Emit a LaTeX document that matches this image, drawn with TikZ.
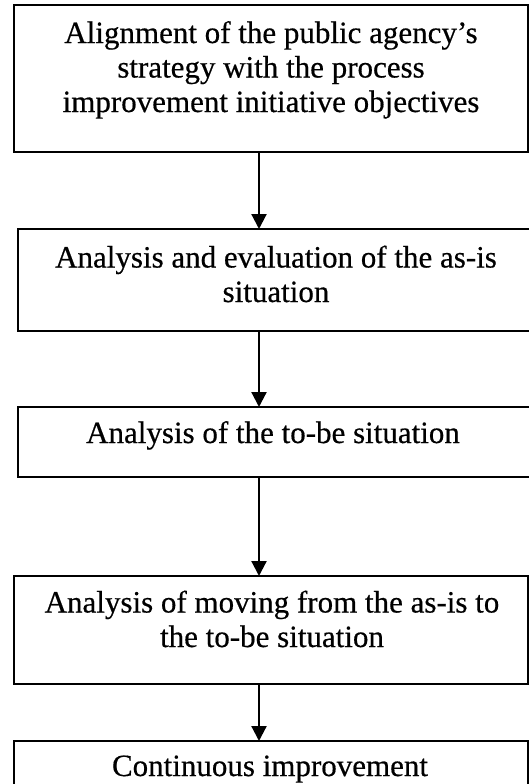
\documentclass[tikz,border=0pt]{standalone}
\usepackage{fontspec}
\setmainfont{Liberation Serif}[FakeBold=0.5]
\usetikzlibrary{arrows.meta}

\tikzset{
  stepbox/.style={draw=black, line width=2.2pt, rectangle, inner sep=0pt, outer sep=0pt,
                  anchor=north west, minimum width=514pt},
  lbl/.style={font=\fontsize{31}{34.5}\selectfont, align=center, inner sep=0pt, anchor=base},
  flow/.style={draw=black, line width=2.2pt, -{Triangle[width=15pt,length=15pt]}}
}

\begin{document}
\begin{tikzpicture}[x=1pt, y=-1pt]
  \useasboundingbox (0,0) rectangle (529,784);
  \clip (0,0) rectangle (529,784);

  % process boxes (right edges run past the frame)
  \node[stepbox, minimum height=147pt] (b1) at (14,5) {};
  \node[stepbox, minimum height=102pt, minimum width=516pt] (b2) at (18,229) {};
  \node[stepbox, minimum height=70pt, minimum width=516pt] (b3) at (18,407) {};
  \node[stepbox, minimum height=108pt] (b4) at (14,576) {};
  \node[stepbox, minimum height=80pt] (b5) at (14,741) {};

  % box texts, placed by the baseline of their last line
  \node[lbl] (t1) at (271,112) {Alignment of the public agency’s\\strategy with the process\\improvement initiative objectives};
  \node[lbl] (t2) at (276,302) {Analysis and evaluation of the as-is\\situation};
  \node[lbl] (t3) at (273,443) {Analysis of the to-be situation};
  \node[lbl] (t4) at (272,647) {Analysis of moving from the as-is to\\the to-be situation};
  \node[lbl] (t5) at (270,776) {Continuous improvement};

  % connectors
  \coordinate (ax) at (259,0);
  \draw[flow] (b1.south -| ax) -- (b2.north -| ax);
  \draw[flow] (b2.south -| ax) -- (b3.north -| ax);
  \draw[flow] (b3.south -| ax) -- (b4.north -| ax);
  \draw[flow] (b4.south -| ax) -- (b5.north -| ax);
\end{tikzpicture}
\end{document}
